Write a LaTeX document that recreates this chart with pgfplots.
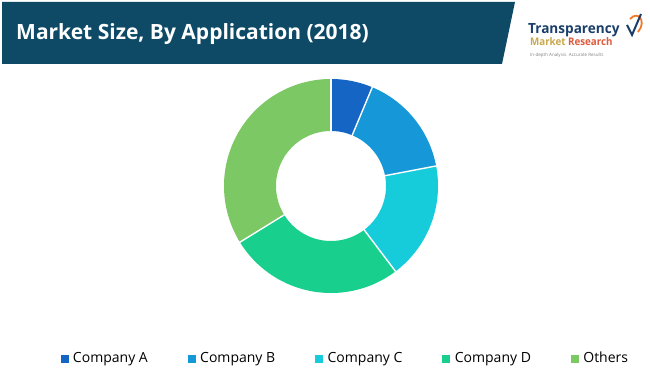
\documentclass[border=0pt]{standalone}
\usepackage{pgfplots}
\pgfplotsset{compat=1.18}
\usepackage{pgfplotstable}
\usepgfplotslibrary{polar}
\usepackage{fontspec}
\setmainfont{Open Sans}
\definecolor{banner}{HTML}{0E4A66}
\definecolor{slice0}{HTML}{1565C4}
\definecolor{slice1}{HTML}{1697D8}
\definecolor{slice2}{HTML}{16CCDB}
\definecolor{slice3}{HTML}{18CF8E}
\definecolor{slice4}{HTML}{7CC864}
\definecolor{tmrnavy}{HTML}{1B3F6B}
\definecolor{tmrgold}{HTML}{C9A84A}
\definecolor{tmrred}{HTML}{DE5A3C}
\definecolor{tmrorange}{HTML}{EE7A2A}

\pgfplotstableread{
label share
A 6.3
B 15.7
C 17.7
D 26.5
Others 33.8
}\sharedata

\begin{document}
\begin{tikzpicture}
\useasboundingbox (0pt,0pt) rectangle (650pt,371pt);
\fill[white] (0pt,0pt) rectangle (650pt,371pt);
% banner
\fill[banner] (2pt,369pt) -- (515pt,369pt) -- (502pt,307pt) -- (2pt,307pt) -- cycle;
\node[anchor=base west, inner sep=0pt, text=white, font=\fontsize{21}{24}\selectfont\bfseries] at (16pt,331pt) {Market Size, By Application (2018)};
% logo
\node[anchor=base west, inner sep=0pt, text=tmrnavy, font=\fontsize{14}{16}\selectfont\bfseries, xscale=0.97] at (528pt,337pt) {Transparency};
\node[anchor=base west, inner sep=0pt, font=\fontsize{10.5}{12}\selectfont\bfseries, xscale=0.93] at (530pt,325pt) {\textcolor{tmrgold}{Market} \textcolor{tmrred}{Research}};
\node[anchor=base west, inner sep=0pt, text=gray, font=\fontsize{4.5}{5}\selectfont] at (530pt,314pt) {In-depth Analysis. Accurate Results};
\draw[line width=1.8pt, tmrorange] (630pt,352pt) .. controls (638pt,361pt) and (647pt,350pt) .. (638pt,339pt);
\draw[line width=2pt, tmrnavy] (627pt,346pt) -- (632pt,336pt) -- (641pt,357pt);

\begin{polaraxis}[
  at={(331pt,185pt)}, anchor=center,
  scale only axis, width=214pt, height=214pt,
  ymin=0, ymax=107, hide axis, clip=false,
  legend image code/.code={\fill[#1] (0pt,-3.5pt) rectangle (7pt,3.5pt);},
  legend style={at={(axis description cs:0.574,-0.305)}, anchor=center,
    draw=none, fill=none, legend columns=5,
    font=\fontsize{14}{16}\selectfont,
    nodes={inner xsep=5pt},
    /tikz/every even column/.append style={column sep=35pt},
    /tikz/every odd column/.append style={column sep=0pt}},
]
\def\cum{0}
\pgfplotsforeachungrouped \i in {0,...,4}{%
  \pgfplotstablegetelem{\i}{share}\of\sharedata
  \pgfmathsetmacro\aStart{90-3.6*\cum}%
  \pgfmathsetmacro\cum{\cum+\pgfplotsretval}%
  \pgfmathsetmacro\aEnd{90-3.6*\cum}%
  \edef\temp{\noexpand\addplot[domain=\aEnd:\aStart, samples=90, line width=52pt, color=slice\i, forget plot] {81};}%
  \temp
}
\def\cum{0}
\pgfplotsforeachungrouped \i in {0,...,4}{%
  \pgfplotstablegetelem{\i}{share}\of\sharedata
  \pgfmathsetmacro\cum{\cum+\pgfplotsretval}%
  \pgfmathsetmacro\aEnd{90-3.6*\cum}%
  \edef\temp{\noexpand\addplot[white, line width=1.4pt, forget plot] coordinates {(\aEnd,53) (\aEnd,109)};}%
  \temp
}
\addlegendimage{slice0}
\addlegendimage{slice1}
\addlegendimage{slice2}
\addlegendimage{slice3}
\addlegendimage{slice4}
\legend{Company A, Company B, Company C, Company D, Others}
\end{polaraxis}
\end{tikzpicture}
\end{document}
